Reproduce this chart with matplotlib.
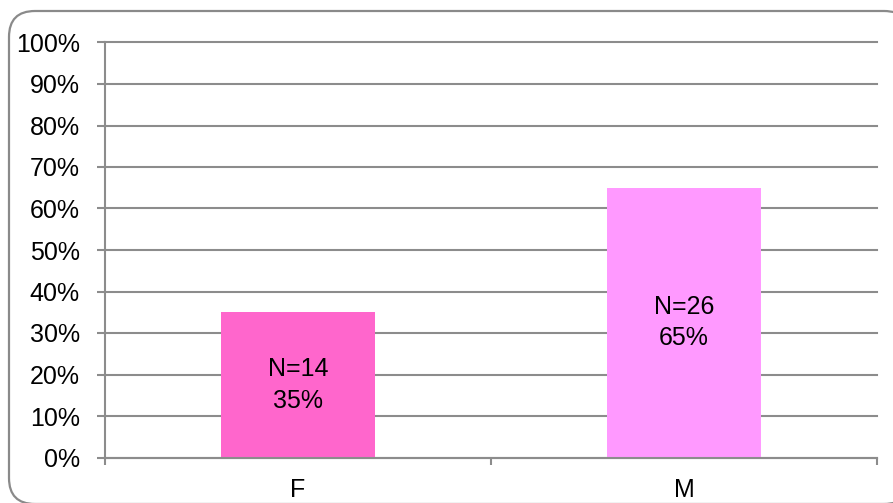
import matplotlib
matplotlib.use("Agg")
import matplotlib.pyplot as plt
from matplotlib.patches import FancyBboxPatch
from matplotlib.ticker import FixedLocator, PercentFormatter

categories = ["F", "M"]
shares = [35, 65]
counts = [14, 26]
bar_colors = ["#FF66CC", "#FF99FF"]
y_ticks = list(range(0, 101, 10))

plt.rcParams["font.family"] = ["Liberation Sans", "DejaVu Sans"]
FS = 18

W, H = 893, 503
fig = plt.figure(figsize=(W / 100, H / 100), dpi=100)
fig.patch.set_facecolor("white")

# rounded chart frame (inch units), running off the right and bottom edges
frame = FancyBboxPatch((0.09, -0.01), (910 - 9) / 100, (504 - 11) / 100,
                       boxstyle="round,pad=0,rounding_size=0.26",
                       transform=fig.dpi_scale_trans, facecolor="white",
                       edgecolor="#8a8a8a", linewidth=1.6, zorder=-5)
fig.patches.append(frame)

ax = fig.add_axes([105 / W, (H - 457.5) / H, 772 / W, 415 / H])
ax.set_facecolor("none")

x = list(range(len(categories)))
bars = ax.bar(x, shares, width=0.4, color=bar_colors, zorder=3)

for xi, v, n in zip(x, shares, counts):
    ax.text(xi, v / 2, f"N={n}\n{v}%", ha="center", va="center",
            fontsize=FS, color="black", linespacing=1.4, zorder=4)

ax.set_xlim(-0.5, len(categories) - 0.5)
ax.set_ylim(0, 100)
ax.yaxis.set_major_locator(FixedLocator(y_ticks))
ax.yaxis.set_major_formatter(PercentFormatter(decimals=0))
ax.grid(axis="y", color="#8c8c8c", linewidth=1.5, zorder=1)
for gl in ax.get_ygridlines():
    gl.set_clip_on(False)

# category boundary ticks on the x axis
ax.set_xticks([-0.5, 0.5, 1.5])
ax.set_xticklabels([])
ax.set_xticks(x, minor=True)
ax.set_xticklabels(categories, minor=True)
ax.tick_params(axis="x", which="major", length=5, width=1.5, color="#8c8c8c", direction="out")
ax.tick_params(axis="x", which="minor", length=0, pad=15, labelsize=FS)
ax.tick_params(axis="y", length=6, width=1.5, color="#8c8c8c", pad=12, labelsize=FS)

for side in ("top", "right"):
    ax.spines[side].set_visible(False)
for side in ("left", "bottom"):
    ax.spines[side].set_color("#8c8c8c")
    ax.spines[side].set_linewidth(1.5)
    ax.spines[side].set_zorder(5)

fig.savefig("out.png", dpi=100)
